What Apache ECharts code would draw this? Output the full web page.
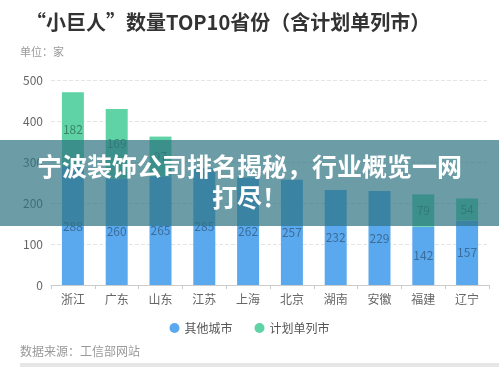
<!DOCTYPE html>
<html>
<head>
<meta charset="utf-8">
<script src="https://cdn.jsdelivr.net/npm/echarts@6/dist/echarts.min.js"></script>
<style>
html,body{margin:0;padding:0;background:#fff;}
#c{width:499px;height:367px;}
</style>
</head>
<body>
<div id="c"></div>
<script>
var categories = ['浙江','广东','山东','江苏','上海','北京','湖南','安徽','福建','辽宁'];
var otherCities = [288,260,265,285,262,257,232,229,142,157];
var planCities = [182,169,97,null,null,null,null,null,79,54];
var seriesNames = ['其他城市','计划单列市'];
var titleText = '“小巨人”数量TOP10省份（含计划单列市）';
var unitText = '单位：家';
var sourceText = '数据来源：工信部网站';
var bannerLine1 = '宁波装饰公司排名揭秘，行业概览一网';
var bannerLine2 = '打尽！';

var chart = echarts.init(document.getElementById('c'));
var font = '"Noto Sans CJK SC","Noto Sans",sans-serif';
chart.setOption({
  animation: false,
  textStyle: {fontFamily: font},
  grid: {left: 51, right: 10, top: 80, bottom: 82},
  legend: {
    data: seriesNames, top: 317, left: 'center', icon: 'circle',
    itemWidth: 10, itemHeight: 10, itemGap: 22,
    textStyle: {color: '#555', fontSize: 12, fontFamily: font}
  },
  xAxis: {
    type: 'category', data: categories,
    axisLine: {lineStyle: {color: '#ccc'}},
    axisTick: {show: true, length: 4, lineStyle: {color: '#ccc'}},
    axisLabel: {color: '#666', fontSize: 12, margin: 8}
  },
  yAxis: {
    type: 'value', min: 0, max: 500, interval: 100,
    axisLabel: {color: '#666', fontSize: 12, margin: 8},
    splitLine: {lineStyle: {color: '#e4e4e4', type: 'dashed'}},
    axisLine: {show: false}, axisTick: {show: false}
  },
  series: [
    {name: seriesNames[0], type: 'bar', stack: 'a', data: otherCities, barWidth: 22,
     itemStyle: {color: '#5aa9ee'},
     label: {show: true, position: 'inside', color: '#3c6c9a', fontSize: 12}},
    {name: seriesNames[1], type: 'bar', stack: 'a', data: planCities, barWidth: 22,
     itemStyle: {color: '#5fd3a6'},
     label: {show: true, position: 'inside', color: '#3a8567', fontSize: 12}}
  ],
  graphic: [
    {type: 'text', left: 26, top: 12, style: {text: titleText, fill: '#333', font: 'bold 20px ' + font}},
    {type: 'text', left: 20, top: 46, style: {text: unitText, fill: '#999', font: '11px ' + font}},
    {type: 'text', left: 20, top: 345, style: {text: sourceText, fill: '#999', font: '12px ' + font}},
    {type: 'rect', left: 20, top: 363, shape: {width: 479, height: 4}, style: {fill: '#e6e6e6'}},
    {type: 'rect', left: 0, top: 140, z: 100, shape: {width: 499, height: 86}, style: {fill: 'rgba(45,115,130,0.7)'}},
    {type: 'text', left: 'center', top: 154, z: 101, style: {text: bannerLine1, fill: '#fff', font: 'bold 25px ' + font}},
    {type: 'text', left: 'center', top: 185, z: 101, style: {text: bannerLine2, fill: '#fff', font: 'bold 25px ' + font}}
  ]
});
</script>
</body>
</html>
